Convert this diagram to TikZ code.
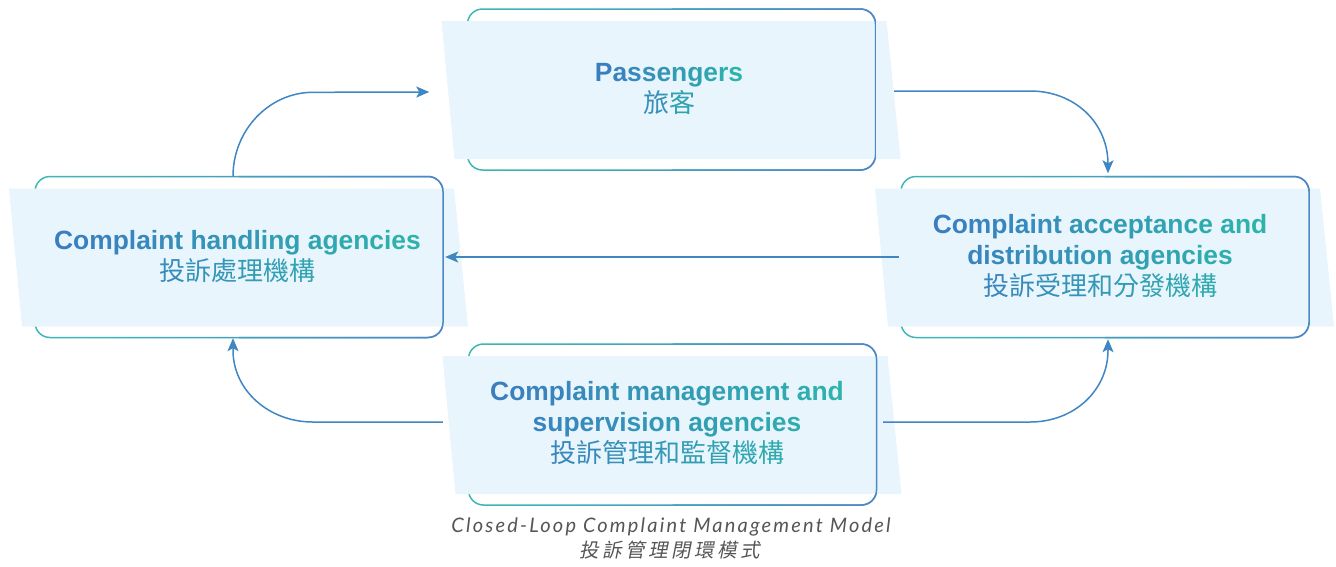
\documentclass[tikz,border=0pt]{standalone}
\usepackage{fontspec}
\usetikzlibrary{arrows.meta,calc}
\newfontfamily\enfont{Liberation Sans}
\newfontfamily\cjkfont{Noto Sans CJK TC}
\newfontfamily\capfont{Lato}[LetterSpace=11]
\newfontfamily\capcjk{Noto Sans CJK TC}[FakeSlant=0.2,LetterSpace=18]
\definecolor{tblue}{HTML}{3A7EC0}
\definecolor{tteal}{HTML}{2DB3AC}
\definecolor{ringteal}{HTML}{3DB8B4}
\definecolor{ringblue}{HTML}{4C87C6}
\definecolor{boxfill}{HTML}{E8F5FC}
\definecolor{arrowblue}{HTML}{3F86C2}
\definecolor{capgray}{HTML}{555555}
\ExplSyntaxOn
\int_new:N \l_grad_n_int
\int_new:N \l_grad_i_int
\int_new:N \l_grad_p_int
\seq_new:N \l_grad_seq
\bool_new:N \l_grad_notfirst_bool
\cs_new_protected:Npn \grad_char:nnn #1#2#3
  {
    \int_set:Nn \l_grad_p_int
      { #1 + ( #2 - #1 ) * \l_grad_i_int / \int_max:nn { 1 } { \l_grad_n_int - 1 } }
    \exp_args:Nx \color { tteal ! \int_use:N \l_grad_p_int ! tblue }
    #3
    \int_incr:N \l_grad_i_int
  }
\NewDocumentCommand \gradtext { m m m }
  {
    \int_set:Nn \l_grad_n_int { \str_count:n {#3} }
    \int_zero:N \l_grad_i_int
    \seq_set_split:Nnn \l_grad_seq { ~ } {#3}
    \bool_set_false:N \l_grad_notfirst_bool
    \seq_map_inline:Nn \l_grad_seq
      {
        \bool_if:NT \l_grad_notfirst_bool { ~ \int_incr:N \l_grad_i_int }
        \bool_set_true:N \l_grad_notfirst_bool
        \tl_map_inline:nn {##1} { \grad_char:nnn {#1} {#2} {####1} }
      }
  }
\ExplSyntaxOff
\newcommand\drawagency[2]{%
  \pgfmathsetmacro\bxL{#1-204}\pgfmathsetmacro\bxR{#1+204}%
  \pgfmathsetmacro\bxT{#2-80.5}\pgfmathsetmacro\bxB{#2+80.5}%
  \shade[ringshade] (\bxL-0.75,\bxT-0.75) rectangle (\bxR+0.75,\bxB+0.75)
     [rounded corners=14.25pt] (\bxL+0.75,\bxT+0.75) rectangle (\bxR-0.75,\bxB-0.75);
  \fill[boxfill] (\bxL-26,\bxT+12) -- (\bxR+11,\bxT+12) -- (\bxR+25,\bxB-11) -- (\bxL-13,\bxB-11) -- cycle;
  \begin{scope}
    \clip (#1,\bxT-5) rectangle (\bxR+5,\bxB+5);
    \shade[ringshade] (\bxL-0.75,\bxT-0.75) rectangle (\bxR+0.75,\bxB+0.75)
       [rounded corners=14.25pt] (\bxL+0.75,\bxT+0.75) rectangle (\bxR-0.75,\bxB-0.75);
  \end{scope}
}
\newcommand\enline{\enfont\bfseries\fontsize{26.4}{31}\selectfont}
\newcommand\cjline{\cjkfont\mdseries\fontsize{26}{31}\selectfont}
\tikzset{
  ringshade/.style={left color=ringteal, right color=ringblue, even odd rule, rounded corners=15.75pt},
  agency/.style={rectangle, minimum width=408pt, minimum height=161pt, inner sep=0pt},
  boxtext/.style={align=center, inner sep=0pt, font=\fontsize{26}{31}\selectfont},
  conn/.style={draw=arrowblue, line width=1.5pt, -{Stealth[length=13pt,width=11pt,inset=3pt]}},
}
\begin{document}
\begin{tikzpicture}[x=1pt,y=-1pt]
\useasboundingbox (0,0) rectangle (1336,566);
% boxes
\drawagency{671.5}{89.5}
\drawagency{239}{257}
\drawagency{1105}{257}
\drawagency{672.5}{424.5}
\node[agency] (pass) at (671.5,89.5) {};
\node[agency] (hand) at (239,257) {};
\node[agency] (acc) at (1105,257) {};
\node[agency] (mgmt) at (672.5,424.5) {};
% texts
\node[boxtext] (passT) at (669,89) {\enline\gradtext{0}{100}{Passengers}\\\cjline\gradtext{32}{68}{旅客}};
\node[boxtext] (handT) at (237.5,257) {\enline\gradtext{0}{100}{Complaint handling agencies}\\\cjline\gradtext{29}{71}{投訴處理機構}};
\node[boxtext] (accT) at (1100,256) {\enline\gradtext{0}{100}{Complaint acceptance and}\\\enline\gradtext{10}{90}{distribution agencies}\\\cjline\gradtext{15}{85}{投訴受理和分發機構}};
\node[boxtext] (mgmtT) at (667,423) {\enline\gradtext{0}{100}{Complaint management and}\\\enline\gradtext{13}{87}{supervision agencies}\\\cjline\gradtext{17}{83}{投訴管理和監督機構}};
% caption
\node[anchor=base, inner sep=0pt, text=capgray, font=\capfont\itshape\fontsize{20}{24}\selectfont] (cap1) at (671,532) {Closed-Loop Complaint Management Model};
\node[anchor=base, inner sep=0pt, text=capgray, font=\capcjk\fontsize{19.5}{24}\selectfont] (cap2) at (670,557) {投訴管理閉環模式};
% connectors
\draw[conn] ([shift={(-6,0)}]hand.north) .. controls +(0,-46) and +(-44,0) .. ([shift={(74,-84)}]hand.north) -- ([shift={(-38,2.5)}]pass.west);
\draw[conn] ([shift={(18.5,1.5)}]pass.east) -- ([shift={(154.5,1.5)}]pass.east) .. controls +(44,0) and +(0,-42) .. ([shift={(3,-12)}]acc.north) -- ([shift={(3,-3)}]acc.north);
\draw[conn] ([shift={(-2,0)}]acc.west) -- ([shift={(2,0)}]hand.east);
\draw[conn] ([shift={(-25.5,-2.5)}]mgmt.west) -- ([shift={(-155.5,-2.5)}]mgmt.west) .. controls +(-44,0) and +(0,40) .. ([shift={(-6,12.5)}]hand.south) -- ([shift={(-6,0.5)}]hand.south);
\draw[conn] ([shift={(6.5,-2.5)}]mgmt.east) -- ([shift={(153.5,-2.5)}]mgmt.east) .. controls +(44,0) and +(0,40) .. ([shift={(3,12.5)}]acc.south) -- ([shift={(3,1.5)}]acc.south);
\end{tikzpicture}
\end{document}
